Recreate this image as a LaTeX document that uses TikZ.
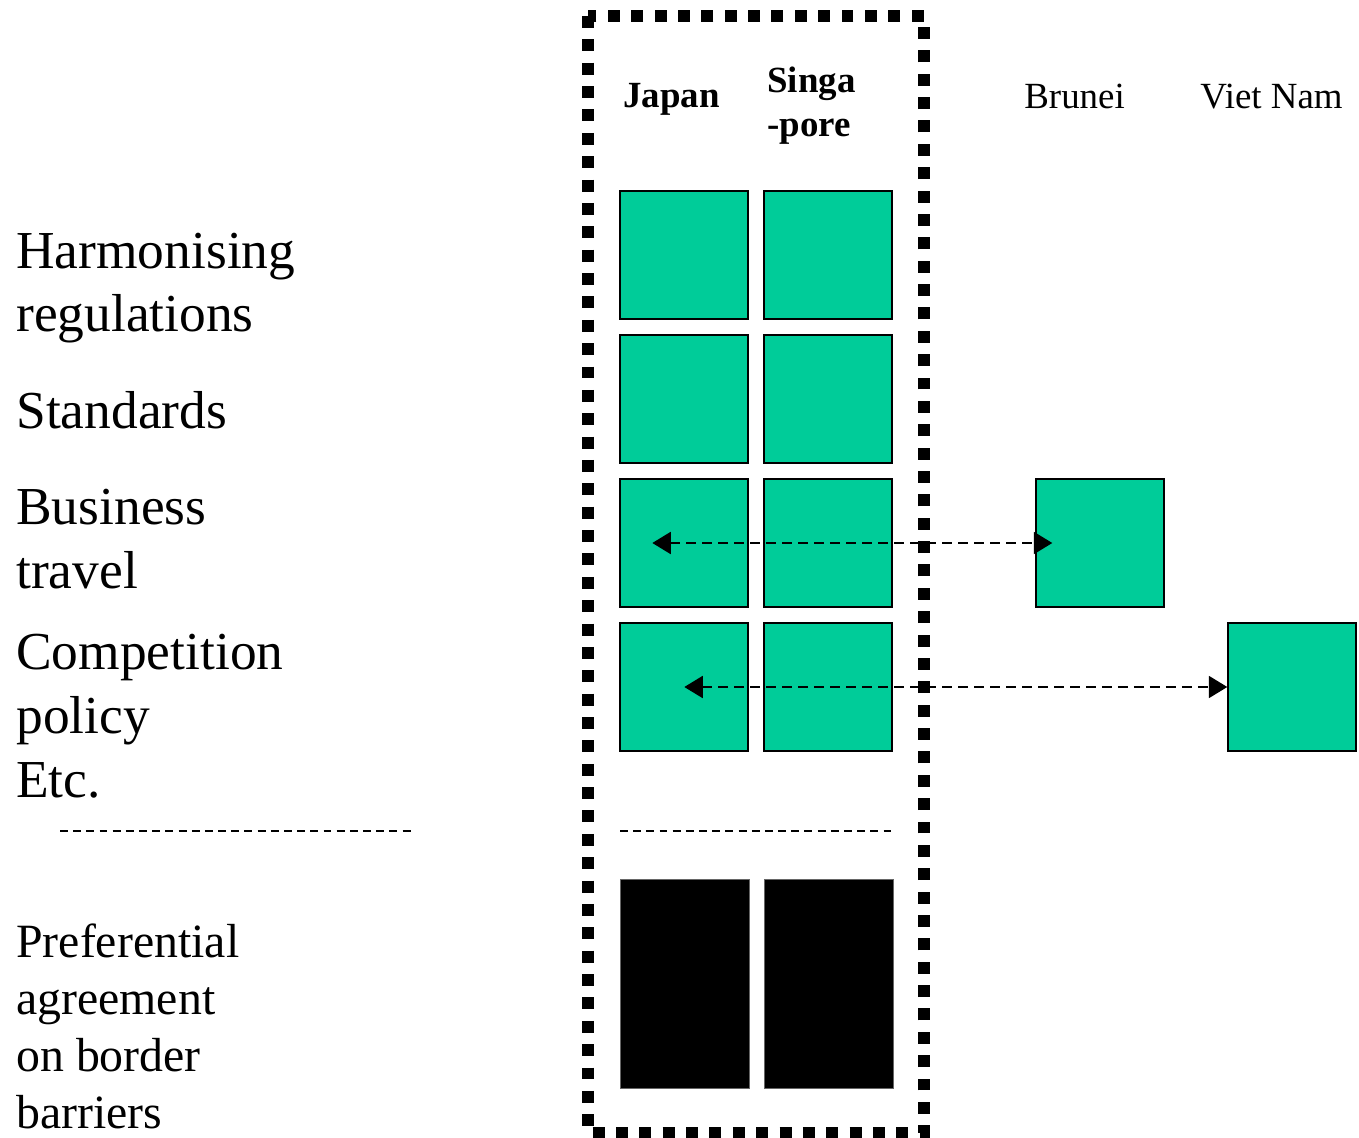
\documentclass[tikz,border=0pt]{standalone}
\usepackage{fontspec}
\setmainfont{Liberation Serif}
\usetikzlibrary{arrows.meta,positioning,calc}
\definecolor{cellgreen}{HTML}{00CC99}
\tikzset{
    cell/.style={draw, fill=cellgreen, line width=0.8pt, minimum size=2.56cm, inner sep=0pt},
    barrier/.style={draw=black!60, fill=black, line width=0.5pt, minimum width=2.58cm, minimum height=4.18cm, inner sep=0pt},
    rowlabel/.style={anchor=base west, align=left, inner sep=0pt, font=\fontsize{30.4}{36.2}\selectfont},
    borderlabel/.style={anchor=base west, align=left, inner sep=0pt, font=\fontsize{27.2}{32.4}\selectfont},
    country/.style={anchor=base west, align=left, inner sep=0pt, font=\fontsize{21}{25.5}\selectfont},
    link/.style={line width=1.1pt, dash pattern=on 5.7pt off 3.4pt, arrows={Triangle[length=10.5pt,width=12.5pt]-Triangle[length=10.5pt,width=12.5pt]}},
    divider/.style={line width=0.8pt, dash pattern=on 4.5pt off 3pt}
}
\begin{document}
\begin{tikzpicture}[x=0.02cm, y=-0.02cm]
    \useasboundingbox (0,0) rectangle (1359,1138);

    % row labels (base = last line)
    \node[rowlabel] (harm) at (16,332) {Harmonising\\regulations};
    \node[rowlabel] (stand) at (16,428) {Standards};
    \node[rowlabel] (bus) at (16,588) {Business\\travel};
    \node[rowlabel] (comp) at (16,797) {Competition\\policy\\Etc.};
    \node[borderlabel] (pref) at (16,1128) {Preferential\\agreement\\on border\\barriers};

    % countries
    \node[country, font=\fontsize{21}{25.5}\selectfont\bfseries] (japan) at (623,108) {Japan};
    \node[country, font=\fontsize{21}{25.5}\selectfont\bfseries] (singa) at (767,137) {Singa\\-pore};
    \node[country] (brunei) at (1024,109) {Brunei};
    \node[country] (viet) at (1200,109) {Viet Nam};

    % Japan and Singapore
    \node[cell] (jp1) at (684,255) {};
    \node[cell] (sg1) at (828,255) {};
    \node[cell] (jp2) at (684,399) {};
    \node[cell] (sg2) at (828,399) {};
    \node[cell] (jp3) at (684,543) {};
    \node[cell] (sg3) at (828,543) {};
    \node[cell] (jp4) at (684,687) {};
    \node[cell] (sg4) at (828,687) {};

    \node[barrier] (jpb) at (684.5,983.5) {};
    \node[barrier] (sgb) at (828.5,983.5) {};

    % other partners
    \node[cell] (bn) at (1100,543) {};
    \node[cell] (vn) at (1292,687) {};

    % dividers
    \draw[divider] (60,831) -- (413,831);
    \draw[divider] (620,831) -- (892,831);

    % the agreement
    \draw[line width=6.8pt, dash pattern=on 6.8pt off 6.5pt] (588,16) rectangle (924,1133);

    \coordinate (bizL) at ($(jp3.west)+(33,0)$);
    \coordinate (bizR) at ($(bn.west)+(17,0)$);
    \coordinate (compL) at ($(jp4.west)+(65,0)$);
    \draw[link] (bizL) -- (bizR);
    \draw[link] (compL) -- (vn.west);
\end{tikzpicture}
\end{document}
